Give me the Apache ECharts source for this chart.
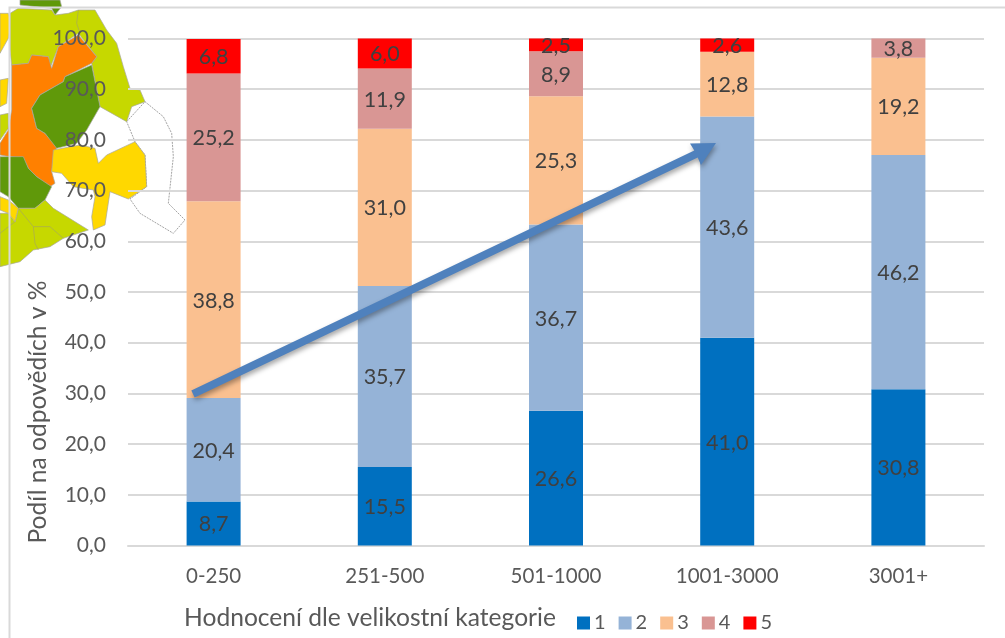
<!DOCTYPE html>
<html><head><meta charset="utf-8">
<style>html,body{margin:0;padding:0;background:#fff}#c{width:1005px;height:638px}</style>
<script src="https://cdn.jsdelivr.net/npm/echarts@6/dist/echarts.min.js"></script>
</head><body><div id="c"></div>
<script>
const categories = ['0-250','251-500','501-1000','1001-3000','3001+'];
const s1 = [8.7,15.5,26.6,41.0,30.8];
const s2 = [20.4,35.7,36.7,43.6,46.2];
const s3 = [38.8,31.0,25.3,12.8,19.2];
const s4 = [25.2,11.9,8.9,null,3.8];
const s5 = [6.8,6.0,2.5,2.6,null];
const seriesNames = ['1','2','3','4','5'];
const seriesValues = [s1,s2,s3,s4,s5];
const seriesColors = ['#0070c0','#95b3d7','#fac090','#d99694','#ff0000'];
const FONT = 'Lato';
const TEXT = '#595959';

// decorative map fragment behind the chart (coordinates in 3x crop space)
const mapShapes = [
 ['#ffffff',[[380,365],[435,305],[490,350],[515,400],[520,470],[505,610],[555,660],[520,700],[420,640],[390,597],[440,560],[435,465],[405,425]]],
 ['#ffd800',[[0,40],[25,40],[35,70],[25,115],[0,160]]],
 ['#ffd800',[[0,240],[25,235],[20,310],[0,320]]],
 ['#c6d800',[[0,345],[25,340],[25,385],[0,420]]],
 ['#60990a',[[60,0],[180,0],[185,20],[165,45],[155,25],[60,15]]],
 ['#c6d800',[[30,40],[55,25],[155,30],[165,45],[205,40],[235,30],[285,30],[320,90],[350,130],[370,200],[390,265],[420,270],[435,305],[395,320],[380,365],[300,320],[275,190],[290,170],[235,100],[175,140],[150,205],[145,170],[95,165],[85,190],[35,195],[30,150]]],
 ['#ff8000',[[35,195],[85,190],[95,165],[145,170],[155,205],[175,140],[235,105],[290,170],[275,190],[195,230],[190,245],[120,285],[95,325],[110,385],[135,400],[170,440],[155,515],[165,550],[150,560],[110,530],[85,505],[70,475],[30,470],[0,465],[0,430],[25,390],[35,330]]],
 ['#60990a',[[275,195],[300,320],[260,390],[230,430],[170,445],[135,400],[110,385],[95,325],[120,285],[190,245],[195,230]]],
 ['#60990a',[[0,470],[70,470],[85,505],[110,530],[155,560],[135,600],[105,625],[55,625],[25,590],[0,575]]],
 ['#ffd800',[[160,450],[240,435],[285,445],[295,490],[320,465],[405,425],[435,465],[440,560],[385,597],[330,575],[315,675],[280,690],[275,650],[285,590],[280,570],[220,560],[185,520],[155,515]]],
 ['#c6d800',[[55,625],[105,625],[135,600],[160,625],[265,690],[190,715],[150,740],[100,750],[60,785],[0,800],[0,640],[25,640],[45,665]]],
 ['#ffd800',[[0,590],[25,600],[55,625],[45,665],[25,640],[0,630]]]
];
const mapBorders = [
 [[235,30],[230,70],[240,100]],
 [[55,625],[100,680],[105,730],[115,750]],
 [[100,680],[150,680],[190,715]],
 [[0,700],[45,665]]
];

const mapGraphics = mapShapes.map(([fill,pts])=>({
  type:'polygon', z:-5, silent:true,
  shape:{points:pts.map(p=>[p[0]/3,p[1]/3])},
  style:fill==='#ffffff'
    ? {fill, stroke:'#8c8c8c', lineWidth:0.8, lineDash:[2,1]}
    : {fill, stroke:'#a8a8a0', lineWidth:0.7}
})).concat(mapBorders.map(pts=>({
  type:'polyline', z:-5, silent:true,
  shape:{points:pts.map(p=>[p[0]/3,p[1]/3])},
  style:{fill:'none', stroke:'#a8a85a', lineWidth:0.7}
})));

const chart = echarts.init(document.getElementById('c'),null,{renderer:'canvas'});
chart.setOption({
  backgroundColor:'#ffffff',
  animation:false,
  textStyle:{fontFamily:FONT},
  grid:{left:128,top:38.5,width:856,height:507},
  legend:{
    left:572,top:608,itemWidth:13,itemHeight:13,itemGap:13,
    icon:'rect',
    textStyle:{color:TEXT,fontSize:20,fontFamily:FONT,padding:[0,0,0,-1]},
    data:seriesNames
  },
  xAxis:{
    type:'category',data:categories,
    name:'Hodnocení dle velikostní kategorie',nameLocation:'middle',nameGap:60,
    nameTextStyle:{color:TEXT,fontSize:24.6,fontFamily:FONT,padding:[0,372,0,0]},
    axisLine:{lineStyle:{color:'#d9d9d9',width:2}},
    axisTick:{show:false},
    axisLabel:{color:TEXT,fontSize:20.5,fontFamily:FONT,margin:20}
  },
  yAxis:{
    type:'value',min:0,max:100,interval:10,
    name:'Podíl na odpovědích v %',nameLocation:'middle',nameGap:77,nameRotate:90,nameMoveOverlap:false,
    nameTextStyle:{color:TEXT,fontSize:24.6,fontFamily:FONT,padding:[0,240,0,0]},
    axisLine:{show:false},axisTick:{show:false},
    axisLabel:{color:TEXT,fontSize:21,fontFamily:FONT,margin:22,formatter:v=>v.toFixed(1).replace('.',',')},
    splitLine:{lineStyle:{color:'#d9d9d9',width:2}}
  },
  series:seriesNames.map((n,i)=>({
    name:n,type:'bar',stack:'t',barWidth:54,
    itemStyle:{color:seriesColors[i]},
    label:{show:true,position:'inside',offset:[0,1],color:'#404040',fontSize:21.5,fontFamily:FONT,
      formatter:p=>p.value==null?'':p.value.toFixed(1).replace('.',',')},
    data:seriesValues[i]
  })),
  graphic:{elements:[
    {type:'polyline',z:-4,silent:true,shape:{points:[[1005,7.5],[9.5,7.5],[9.5,638]]},style:{stroke:'#d9d9d9',lineWidth:2,fill:'none'}},
    ...mapGraphics,
    {type:'polygon',z:100,silent:true,
     shape:{points:[[191.3,390.4],[694.3,150.4],[690,143.5],[716,143],[701,165],[697.7,157.6],[194.7,397.6]]},
     style:{fill:'#4f81bd',shadowBlur:5,shadowColor:'rgba(0,0,0,0.35)',shadowOffsetX:1,shadowOffsetY:3}}
  ]}
});
</script></body></html>
